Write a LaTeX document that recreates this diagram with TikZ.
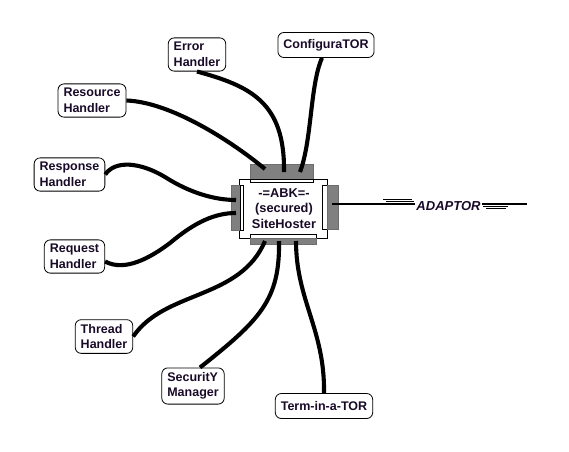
\documentclass[tikz,border=0pt]{standalone}
\usepackage{fontspec}
\setmainfont{Liberation Sans}
\definecolor{txt}{RGB}{25,10,40}
\definecolor{barg}{RGB}{128,128,128}
\begin{document}
\begin{tikzpicture}[x=1pt,y=-1pt,
  handler/.style={draw, rounded corners=6pt, fill=white, align=left,
    font=\bfseries\fontsize{12.5}{15.5}\selectfont, text=txt,
    inner xsep=5.5pt, inner ysep=4.5pt, line width=0.8pt},
  single/.style={minimum height=25pt, inner ysep=2pt},
  wire/.style={line width=4.1pt},
  bar/.style={fill=barg, draw=barg!85!black, line width=0.5pt},
  strip/.style={fill=white, draw=black, line width=0.7pt}]
\useasboundingbox (0,0) rectangle (569,451);

% central host
\draw[fill=white, line width=0.7pt] (239,179) rectangle (327,238);
\draw[bar]   (250,164) rectangle (313,179);
\draw[strip] (250,179) rectangle (313,182);
\draw[bar]   (231,185) rectangle (240,230);
\draw[strip] (240,185) rectangle (243,230);
\draw[strip] (322,185) rectangle (327,229);
\draw[bar]   (327,185) rectangle (338,229);
\draw[strip] (250,234) rectangle (316,238);
\draw[bar]   (250,238) rectangle (316,244);
\node[align=center, text=txt, font=\bfseries\fontsize{12.8}{15.5}\selectfont] (host) at (284,208.5) {-=ABK=-\\(secured)\\SiteHoster};

% ports
\coordinate (tE) at (284,172);
\coordinate (tC) at (300,172);
\coordinate (tR) at (265,169);
\coordinate (lA) at (236,200);
\coordinate (lB) at (236,213);
\coordinate (bT) at (265,241);
\coordinate (bS) at (279,241);
\coordinate (bM) at (296,241);
\coordinate (aR) at (332,204);
\coordinate (aE) at (527,204);

% handlers
\node[handler] (err)  at (197,54.5)  {Error\\Handler};
\node[handler] (res)  at (92,100.5)  {Resource\\Handler};
\node[handler,single] (cfg) at (326,45) {ConfiguraTOR};
\node[handler] (rsp)  at (69.5,174.5) {Response\\Handler};
\node[handler] (req)  at (74.5,256.5) {Request\\Handler};
\node[handler] (thr)  at (104,336.5) {Thread\\Handler};
\node[handler] (sec)  at (193,386)   {SecuritY\\Manager};
\node[handler,single] (term) at (324,406) {Term-in-a-TOR};

% wires
\draw[wire] (err.south) .. controls (250,86) and (285,102) .. (tE);
\draw[wire] ([xshift=-4pt]cfg.south) .. controls (310,85) and (312,140) .. (tC);
\draw[wire] (res.east) .. controls (170,102) and (230,140) .. (tR);
\draw[wire] (rsp.east) .. controls (115,160) and (140,162) .. (165,177)
            .. controls (190,193) and (215,200) .. (lA);
\draw[wire] ([yshift=-5pt]req.east) .. controls (125,272) and (150,258) .. (170,243)
            .. controls (195,222) and (215,213) .. (lB);
\draw[wire] (thr.east) .. controls (165,290) and (240,300) .. (bT);
\draw[wire] ([xshift=7pt]sec.north) .. controls (260,320) and (280,300) .. (bS);
\draw[wire] (term.north) .. controls (325,330) and (296,300) .. (bM);

% adaptor
\draw[line width=1.4pt] (aR) -- (aE);
\draw[line width=1.1pt] (383,199.5) -- (412,199.5);
\draw[line width=1.1pt] (386,201.8) -- (414,201.8);
\draw[line width=1.1pt] (483,206.5) -- (508,206.5);
\draw[line width=1.1pt] (486,208.8) -- (506,208.8);
\node[fill=white, inner sep=1pt, text=txt, font=\bfseries\itshape\fontsize{13}{15}\selectfont] (ad) at (448.5,206) {ADAPTOR};
\end{tikzpicture}
\end{document}
